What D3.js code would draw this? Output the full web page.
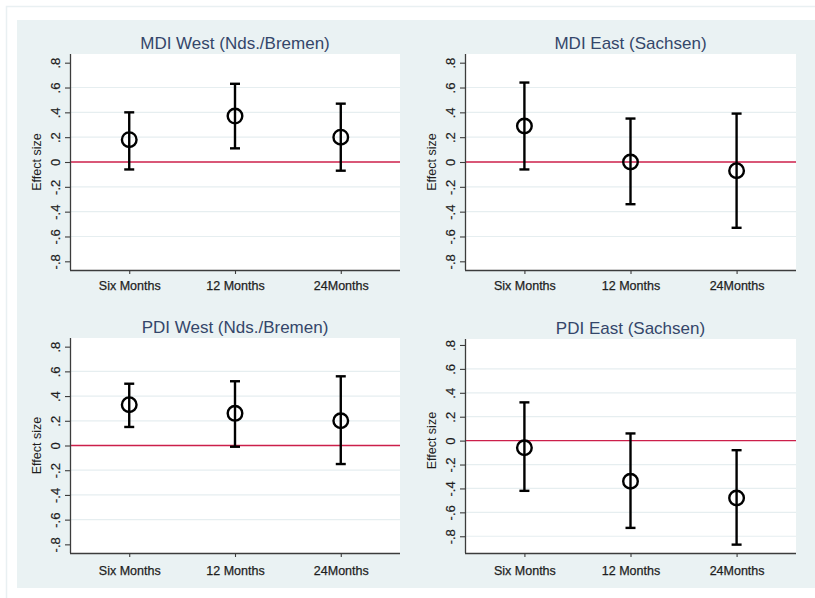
<!DOCTYPE html>
<html>
<head>
<meta charset="utf-8">
<script src="https://cdn.jsdelivr.net/npm/d3@7"></script>
<style>
  html, body { margin: 0; padding: 0; background: #ffffff; }
  svg { display: block; font-family: "Liberation Sans", Arial, sans-serif; }
</style>
</head>
<body>
<svg id="chart" width="815" height="598"></svg>
<script>
// Time points on the x axis
const categories = ["Six Months", "12 Months", "24Months"];

// Y axis ticks and their Stata-style labels
const yTickValues = [-0.8, -0.6, -0.4, -0.2, 0, 0.2, 0.4, 0.6, 0.8];
const yTickLabels = ["-.8", "-.6", "-.4", "-.2", "0", ".2", ".4", ".6", ".8"];

// Panel titles
const titles = [
  "MDI West (Nds./Bremen)",
  "MDI East (Sachsen)",
  "PDI West (Nds./Bremen)",
  "PDI East (Sachsen)"
];

// Effect sizes with 95% confidence limits
const mdiWestEst = [0.18, 0.37, 0.20];
const mdiWestLo  = [-0.06, 0.11, -0.07];
const mdiWestHi  = [0.40, 0.63, 0.47];

const mdiEastEst = [0.29, 0.00, -0.07];
const mdiEastLo  = [-0.06, -0.34, -0.53];
const mdiEastHi  = [0.64, 0.35, 0.39];

const pdiWestEst = [0.33, 0.26, 0.20];
const pdiWestLo  = [0.15, -0.01, -0.15];
const pdiWestHi  = [0.50, 0.52, 0.56];

const pdiEastEst = [-0.06, -0.34, -0.48];
const pdiEastLo  = [-0.42, -0.73, -0.87];
const pdiEastHi  = [0.32, 0.06, -0.08];

// Plot ranges for each panel (the last one widens to fit its lowest interval)
const yDomains = [[-0.87, 0.87], [-0.87, 0.87], [-0.87, 0.87], [-0.94, 0.85]];

const svg = d3.select("#chart");

// Outer frame and light bluish-gray graph region
svg.append("path")
  .attr("d", "M6.5,598 V6.5 H815")
  .attr("fill", "none")
  .attr("stroke", "#e9f0f2")
  .attr("stroke-width", 1.5);
svg.append("rect")
  .attr("x", 17).attr("y", 20)
  .attr("width", 798).attr("height", 568)
  .attr("fill", "#eaf2f3");

const series = [
  { est: mdiWestEst, lo: mdiWestLo, hi: mdiWestHi },
  { est: mdiEastEst, lo: mdiEastLo, hi: mdiEastHi },
  { est: pdiWestEst, lo: pdiWestLo, hi: pdiWestHi },
  { est: pdiEastEst, lo: pdiEastLo, hi: pdiEastHi }
];

// Plot-region rectangles: [left, top, right, bottom], plus x-label offset
const frames = [
  { l: 70,  t: 54,  r: 400, b: 270, lab: 19.5 },
  { l: 465, t: 54,  r: 796, b: 270, lab: 19.5 },
  { l: 70,  t: 338, r: 400, b: 553, lab: 21.5 },
  { l: 465, t: 339, r: 796, b: 553, lab: 21.5 }
];

const textInk = "#1e1e1e";

frames.forEach((f, i) => {
  const s = series[i];
  const g = svg.append("g");

  const x = d3.scaleLinear().domain([0.44, 3.56]).range([f.l, f.r]);
  const y = d3.scaleLinear().domain(yDomains[i]).range([f.b, f.t]);

  // white plot region
  g.append("rect")
    .attr("x", f.l).attr("y", f.t)
    .attr("width", f.r - f.l).attr("height", f.b - f.t)
    .attr("fill", "#ffffff");

  // horizontal grid lines, skipped where they would hug the region edge
  const gridVals = yTickValues.filter(v => Math.abs(y(v) - f.t) > 10 && Math.abs(y(v) - f.b) > 10 && v !== 0);
  g.selectAll("line.grid").data(gridVals).enter().append("line")
    .attr("class", "grid")
    .attr("x1", f.l).attr("x2", f.r)
    .attr("y1", d => y(d)).attr("y2", d => y(d))
    .attr("stroke", "#e6eef0")
    .attr("stroke-width", 1.2);

  // reference line at zero
  g.append("line")
    .attr("x1", f.l).attr("x2", f.r)
    .attr("y1", y(0)).attr("y2", y(0))
    .attr("stroke", "#cc1f4a")
    .attr("stroke-width", 1.3);

  // y axis
  const yAxis = d3.axisLeft(y)
    .tickValues(yTickValues)
    .tickFormat((d, k) => yTickLabels[k])
    .tickSize(5)
    .tickSizeOuter(0);
  const ya = g.append("g").attr("transform", `translate(${f.l},0)`).call(yAxis);
  ya.select(".domain").attr("stroke", "#3c3c3c").attr("stroke-width", 1.3)
    .attr("d", `M0.5,${f.t}V${f.b}`);
  ya.selectAll(".tick line").attr("stroke", "#3c3c3c").attr("stroke-width", 1.1);
  ya.selectAll(".tick text")
    .attr("x", null).attr("dy", null)
    .attr("transform", "translate(-10.5,0) rotate(-90)")
    .attr("text-anchor", "middle")
    .attr("fill", textInk)
    .attr("stroke", textInk).attr("stroke-width", 0.2)
    .style("font-size", "13px")
    .style("font-family", "'Liberation Sans', Arial, sans-serif");

  // x axis
  const xAxis = d3.axisBottom(x)
    .tickValues([1, 2, 3])
    .tickFormat(d => categories[d - 1])
    .tickSize(4)
    .tickSizeOuter(0);
  const xa = g.append("g").attr("transform", `translate(0,${f.b})`).call(xAxis);
  xa.select(".domain").attr("stroke", "#3c3c3c").attr("stroke-width", 1.3)
    .attr("d", `M${f.l},0.5H${f.r}`);
  xa.selectAll(".tick line").attr("stroke", "#3c3c3c").attr("stroke-width", 1.1);
  xa.selectAll(".tick text")
    .attr("y", f.lab).attr("dy", null)
    .attr("fill", textInk)
    .attr("stroke", textInk).attr("stroke-width", 0.25)
    .style("font-size", "12.5px")
    .style("font-family", "'Liberation Sans', Arial, sans-serif");

  // y axis title
  g.append("text")
    .attr("transform", `translate(${f.l - 29},${(y(0.87) + y(-0.87)) / 2}) rotate(-90)`)
    .attr("text-anchor", "middle")
    .attr("fill", textInk)
    .style("font-size", "12.5px")
    .text("Effect size");

  // panel title
  g.append("text")
    .attr("x", (f.l + f.r) / 2)
    .attr("y", f.t - 5.5)
    .attr("text-anchor", "middle")
    .attr("fill", "#34466a")
    .style("font-size", "17px")
    .text(titles[i]);

  // confidence intervals with caps
  const idx = d3.range(categories.length);
  const capHalf = 5;
  const lw = 2.4;
  g.selectAll("line.ci").data(idx).enter().append("line")
    .attr("class", "ci")
    .attr("x1", k => x(k + 1)).attr("x2", k => x(k + 1))
    .attr("y1", k => y(s.lo[k])).attr("y2", k => y(s.hi[k]))
    .attr("stroke", "#000").attr("stroke-width", lw);
  g.selectAll("line.capHi").data(idx).enter().append("line")
    .attr("class", "capHi")
    .attr("x1", k => x(k + 1) - capHalf).attr("x2", k => x(k + 1) + capHalf)
    .attr("y1", k => y(s.hi[k])).attr("y2", k => y(s.hi[k]))
    .attr("stroke", "#000").attr("stroke-width", lw);
  g.selectAll("line.capLo").data(idx).enter().append("line")
    .attr("class", "capLo")
    .attr("x1", k => x(k + 1) - capHalf).attr("x2", k => x(k + 1) + capHalf)
    .attr("y1", k => y(s.lo[k])).attr("y2", k => y(s.lo[k]))
    .attr("stroke", "#000").attr("stroke-width", lw);

  // hollow point estimates
  g.selectAll("circle.est").data(idx).enter().append("circle")
    .attr("class", "est")
    .attr("cx", k => x(k + 1))
    .attr("cy", k => y(s.est[k]))
    .attr("r", 7.3)
    .attr("fill", "none")
    .attr("stroke", "#000")
    .attr("stroke-width", lw);
});
</script>
</body>
</html>
